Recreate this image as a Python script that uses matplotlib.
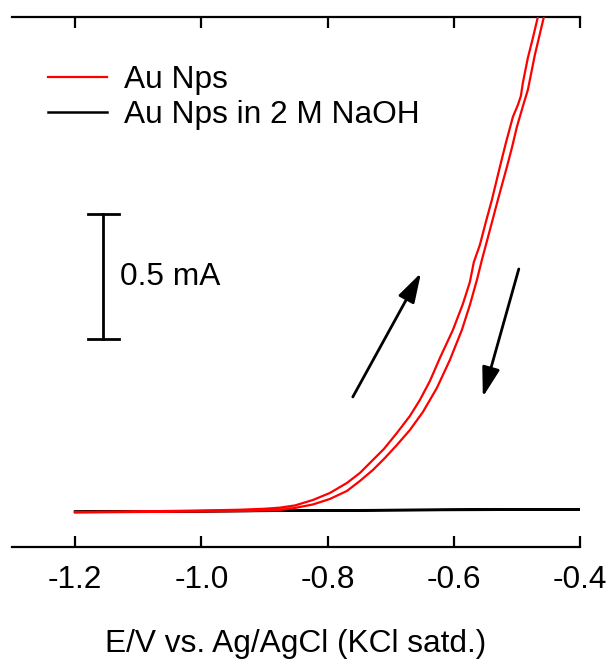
import matplotlib
matplotlib.use("Agg")
import matplotlib.pyplot as plt

plt.rcParams['font.family'] = ['Liberation Sans', 'DejaVu Sans']

# Potential (V vs. Ag/AgCl) and current (mA) for the Au Nps CV loop: anodic sweep
fwd_E = [-1.2000, -1.0812, -1.0021, -0.9387, -0.8991, -0.8753, -0.8516, -0.8230,
         -0.7962, -0.7693, -0.7487, -0.7329, -0.7107, -0.6901, -0.6695, -0.6537,
         -0.6378, -0.6220, -0.6014, -0.5856, -0.5745, -0.5682, -0.5587, -0.5492,
         -0.5397, -0.5270, -0.5175, -0.5064, -0.4985, -0.4937, -0.4906, -0.4827,
         -0.4747, -0.4668, -0.4589]
fwd_I = [0.000, 0.0028, 0.0056, 0.0088, 0.0128, 0.0172, 0.026, 0.048,
         0.076, 0.116, 0.156, 0.196, 0.252, 0.316, 0.384, 0.448,
         0.524, 0.616, 0.728, 0.832, 0.920, 1.000, 1.068, 1.160,
         1.248, 1.380, 1.476, 1.580, 1.628, 1.664, 1.716, 1.816,
         1.896, 1.980, 2.048]
# ... and the return sweep
rev_E = [-0.4510, -0.4573, -0.4652, -0.4716, -0.4795, -0.4827, -0.4890, -0.5001,
         -0.5080, -0.5159, -0.5302, -0.5428, -0.5555, -0.5634, -0.5745, -0.5872,
         -0.6062, -0.6268, -0.6489, -0.6695, -0.6901, -0.7091, -0.7281, -0.7487,
         -0.7693, -0.7962, -0.8230, -0.8516, -0.8753, -0.9229, -1.0021, -1.2000]
rev_I = [2.048, 1.980, 1.896, 1.828, 1.728, 1.688, 1.636, 1.540,
         1.456, 1.380, 1.248, 1.128, 1.008, 0.928, 0.828, 0.728,
         0.608, 0.496, 0.400, 0.328, 0.268, 0.216, 0.168, 0.124,
         0.084, 0.052, 0.030, 0.016, 0.008, 0.004, 0.0016, -0.002]

# Au Nps in 2 M NaOH
naoh_E = [-1.200, -1.000, -0.800, -0.600, -0.400, -0.600, -0.800, -1.000, -1.200]
naoh_I = [0.000, 0.003, 0.006, 0.008, 0.010, 0.009, 0.006, 0.003, 0.001]

x_ticks = [-1.2, -1.0, -0.8, -0.6, -0.4]
x_tick_labels = ['-1.2', '-1.0', '-0.8', '-0.6', '-0.4']
legend_labels = ['Au Nps', 'Au Nps in 2 M NaOH']
scale_bar_mA = 0.5

FS = 22.8

fig = plt.figure(figsize=(6.11, 6.62), dpi=100)
ax = fig.add_axes([0.0196, 0.1742, 0.9297, 0.8001])

ax.plot(fwd_E + rev_E, fwd_I + rev_I, color='#ff0000', lw=1.6,
        label=legend_labels[0], zorder=3)
ax.plot(naoh_E, naoh_I, color='black', lw=1.8, label=legend_labels[1], zorder=2)

ax.set_xlim(-1.30, -0.40)
ax.set_ylim(-0.139, 1.98)

for side in ('left', 'right'):
    ax.spines[side].set_visible(False)
for side in ('top', 'bottom'):
    ax.spines[side].set_linewidth(1.6)

ax.set_xticks(x_ticks)
ax.set_xticklabels(x_tick_labels, fontsize=FS)
ax.tick_params(axis='x', direction='in', top=True, bottom=True, length=8,
               width=1.6, pad=13)
ax.set_yticks([])
ax.set_xlabel('E/V vs. Ag/AgCl (KCl satd.)', fontsize=FS, labelpad=25)

# Current scale bar
bx = -1.1557
by0 = 0.69
ax.plot([bx, bx], [by0, by0 + scale_bar_mA], color='black', lw=2)
ax.plot([bx - 0.0245, bx + 0.0245], [by0, by0], color='black', lw=2)
ax.plot([bx - 0.0245, bx + 0.0245], [by0 + scale_bar_mA] * 2, color='black', lw=2)
ax.text(-1.129, by0 + scale_bar_mA / 2, f'{scale_bar_mA} mA', fontsize=FS,
        va='center', ha='left')

# Sweep direction arrows
arrow_kw = dict(arrowstyle='-|>,head_length=1.0,head_width=0.3', lw=2,
                color='black', mutation_scale=18, shrinkA=0, shrinkB=0)
ax.annotate('', xy=(-0.652, 0.956), xytext=(-0.760, 0.46), arrowprops=arrow_kw)
ax.annotate('', xy=(-0.554, 0.46), xytext=(-0.497, 0.972), arrowprops=arrow_kw)

ax.legend(loc='upper left', bbox_to_anchor=(48 / 611, 1 - 65 / 662),
          bbox_transform=fig.transFigure, frameon=False, fontsize=FS,
          handlelength=1.86, handletextpad=0.55, labelspacing=0.16,
          borderpad=0, borderaxespad=0)

fig.savefig('out.png', dpi=100)
